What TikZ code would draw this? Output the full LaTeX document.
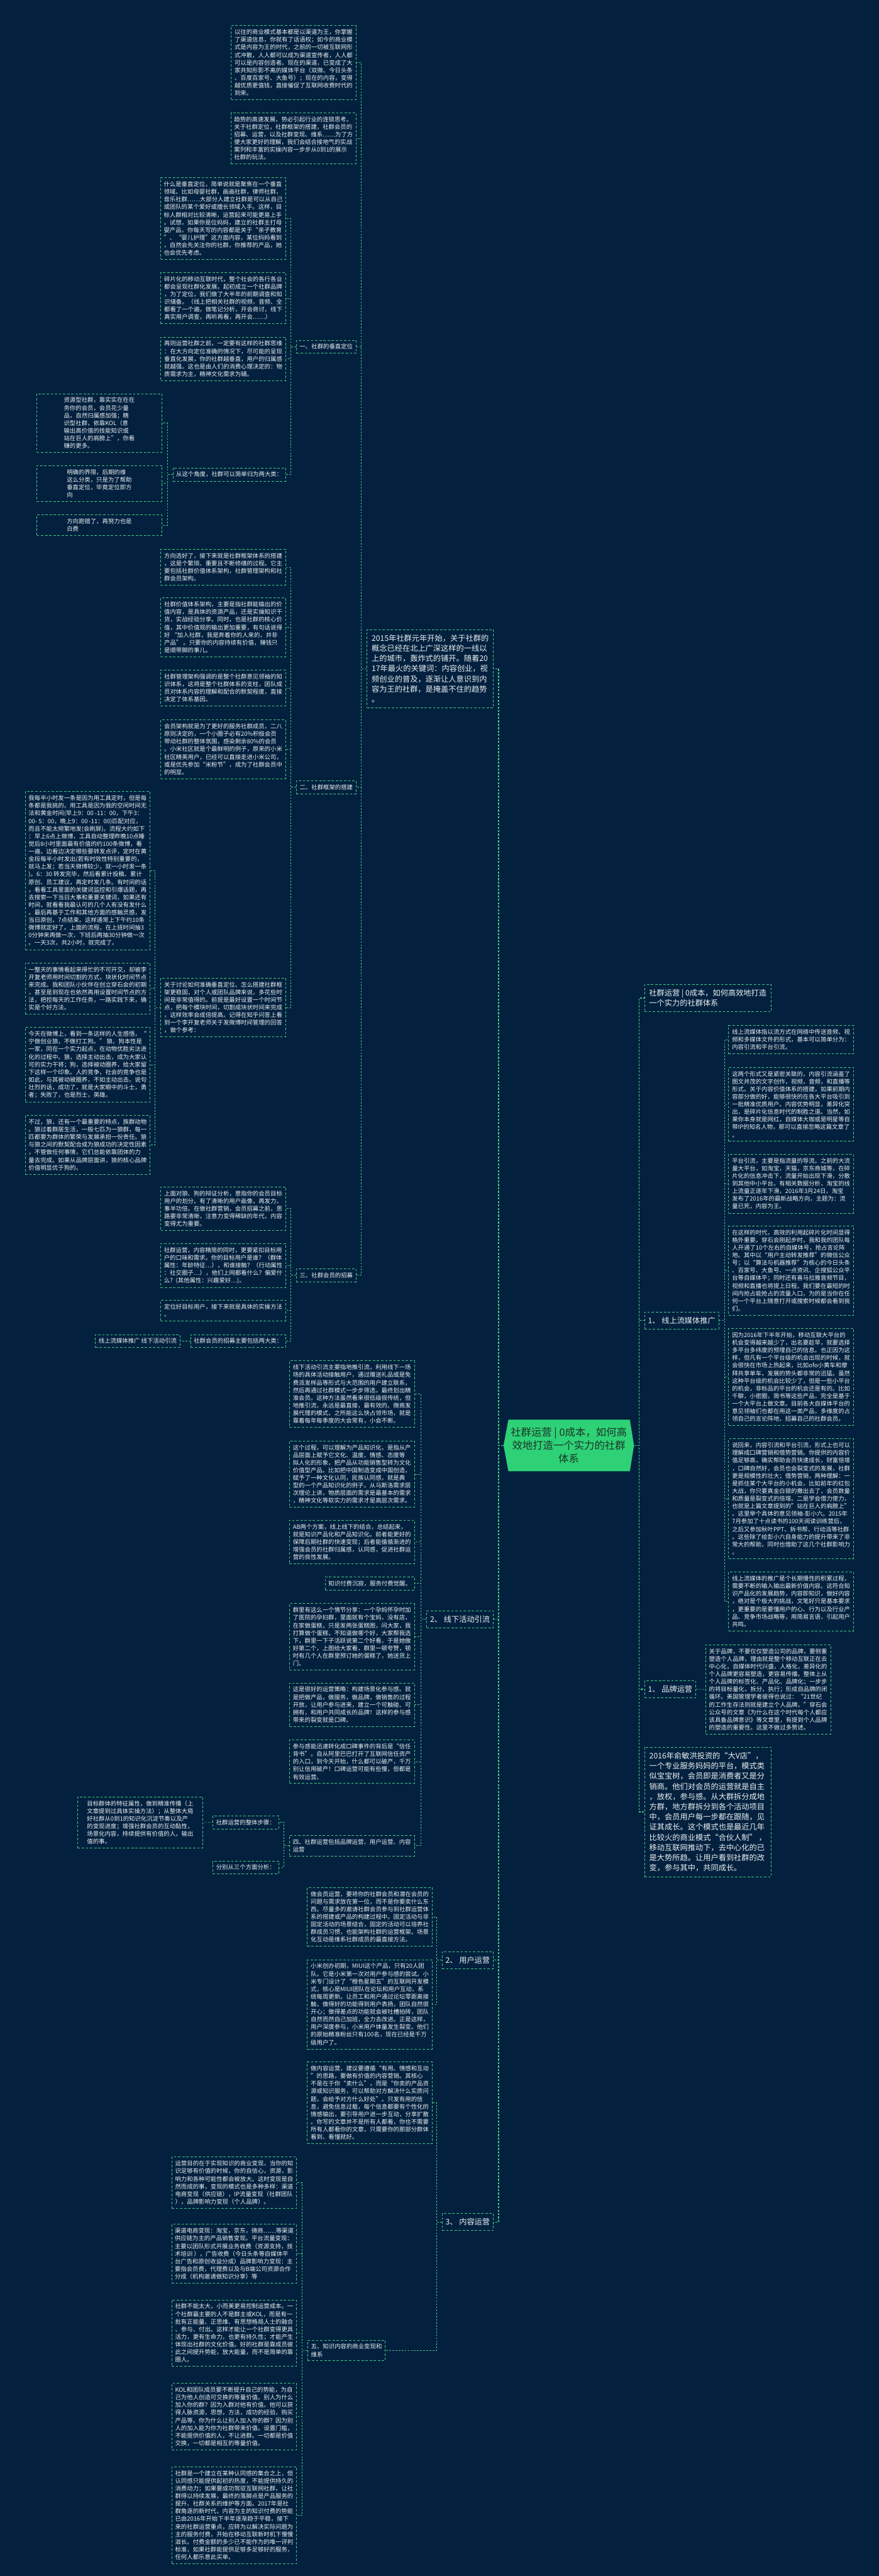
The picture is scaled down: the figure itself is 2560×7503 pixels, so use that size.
\documentclass[tikz,border=0pt]{standalone}
\usepackage{fontspec}
\newfontfamily\cjk{Noto Sans CJK SC}
\definecolor{bgc}{RGB}{3,33,63}
\definecolor{lgreen}{RGB}{72,201,125}
\definecolor{txt}{RGB}{236,240,241}
\definecolor{cgreen}{RGB}{46,209,118}
\definecolor{ctext}{RGB}{28,52,40}
\newcommand\mysmallfont{\cjk\fontsize{8.6}{11.1}\selectfont}
\newcommand\mybigfont{\cjk\fontsize{11.2}{14.85}\selectfont}
\newcommand\mycenterfont{\cjk\fontsize{15}{19}\selectfont}
\tikzset{
  bx/.style={draw=lgreen, line width=0.7pt, dash pattern=on 3.5pt off 2.5pt, align=left, font=\mysmallfont, inner xsep=4.5pt, inner ysep=5.5pt, text=txt},
  lw/.style={minimum width=182pt},
  lb/.style={bx, inner xsep=4.75pt},
  bgb/.style={bx, font=\mybigfont, inner xsep=5pt, inner ysep=7.3pt},
  ln/.style={draw=lgreen, line width=0.6pt, dash pattern=on 2.5pt off 2pt},
  mln/.style={draw=lgreen, line width=1.2pt, dash pattern=on 3pt off 2pt},
}
\begin{document}
\begin{tikzpicture}[x=0.5pt,y=-0.5pt]
\fill[bgc] (0,0) rectangle (2560,7503);
\useasboundingbox (0,0) rectangle (2560,7503);
% centre
\fill[cgreen] (1481,4135) -- (1835,4135) -- (1847,4210) -- (1835,4285) -- (1481,4285) -- (1467,4210) -- cycle;
\node[font=\mycenterfont, align=center, text=ctext, minimum width=190pt, minimum height=75pt, inner sep=0pt] (c0) at (1657,4210) {社群运营 | 0成本，如何高\\效地打造一个实力的社群\\体系};

% ---------------- left level 1
\node[bgb, anchor=north east, minimum width=184pt] (p2015) at (1438,1833) {2015年社群元年开始，关于社群的\\概念已经在北上广深这样的一线以\\上的城市，轰炸式的铺开。随着20\\17年最火的关键词：内容创业，视\\频创业的普及，逐渐让人意识到内\\容为王的社群，是掩盖不住的趋势\\。};
\node[bgb, anchor=east] (lx2) at (1438,4716) {2、 线下活动引流};
\node[bgb, anchor=east] (lu2) at (1438,5709) {2、 用户运营};
\node[bgb, anchor=east] (lc3) at (1438,6472) {3、 内容运营};

% ---------------- children of 2015 box
\node[bx, lw, anchor=north east] (a1) at (1038,74) {以往的商业模式基本都是以渠道为王，你掌握\\了渠道信息，你就有了话语权；如今的商业模\\式是内容为王的时代，之前的一切被互联网形\\式冲散，人人都可以成为渠道宣传者，人人都\\可以是内容创造者。现在的渠道，已变成了大\\家共知形影不离的媒体平台（双微、今日头条\\、百度百家号、大鱼号）；现在的内容，变得\\越优质更值钱，直接催促了互联网收费时代的\\到来。};
\node[bx, lw, anchor=north east] (a2) at (1038,328) {趋势的高速发展，势必引起行业的连锁思考。\\关于社群定位，社群框架的搭建，社群会员的\\招募、运营，以及社群变现、维系……为了方\\便大家更好的理解，我们会结合接地气的实战\\案列和丰富的实操内容一步步从0到1的展示\\社群的玩法。};
\node[lb, anchor=east] (l1) at (1038,1010) {一、社群的垂直定位};
\node[lb, anchor=east] (l2) at (1038,2293) {二、社群框架的搭建};
\node[lb, anchor=east] (l3) at (1038,3714) {三、社群会员的招募};

% ---------------- 一
\node[bx, lw, anchor=north east] (b1) at (833,517) {什么是垂直定位，简单说就是聚焦在一个垂直\\领域。比如母婴社群，画画社群，律师社群，\\音乐社群……大部分人建立社群是可以从自己\\或团队的某个爱好或擅长领域入手。这样，目\\标人群相对比较清晰，运营起来可能更易上手\\。试想，如果你是位妈妈，建立的社群主打母\\婴产品，你每天写的内容都是关于“亲子教育\\”、“婴儿护理”这方面内容，某位妈妈看到\\，自然会先关注你的社群，你推荐的产品，她\\也会优先考虑。};
\node[bx, lw, anchor=north east] (b2) at (833,793) {碎片化的移动互联时代，整个社会的各行各业\\都会呈现社群化发展。起初成立一个社群品牌\\，为了定位，我们做了大半年的前期调查和知\\识储备。（线上把相关社群的视频，音频、全\\都看了一个遍，做笔记分析，开会商讨，线下\\真实用户调查，再听再看，再开会……）};
\node[bx, lw, anchor=north east] (b3) at (833,981) {再则运营社群之前，一定要有这样的社群思维\\：在大方向定位准确的情况下，尽可能的呈现\\垂直化发展，你的社群越垂直，用户的归属感\\就越强。这也是由人们的消费心理决定的：物\\质需求为主，精神文化需求为辅。};
\node[lb, anchor=east] (lcat) at (833,1382) {从这个角度，社群可以简单归为两大类：};
\node[bx, lw, anchor=north east] (j1) at (472,1146) {资源型社群，靠实实在在在\\务你的会员，会员花少量\\品，自然归属感加强；精\\识型社群，依靠KOL（意\\输出高价值的技能知识或\\站在巨人的肩膀上”，你看\\赚的更多。};
\node[bx, lw, anchor=north east] (j2) at (472,1355) {明确的界限，后期的维\\这么分类，只是为了帮助\\垂直定位，毕竟定位即方\\向};
\node[bx, lw, anchor=north east] (j3) at (472,1499) {方向跑错了，再努力也是\\白费};

% ---------------- 二
\node[bx, lw, anchor=north east] (k1) at (833,1599) {方向选好了，接下来就是社群框架体系的搭建\\，这是个繁琐、重要且不断修缮的过程。它主\\要包括社群价值体系架构，社群管理架构和社\\群会员架构。};
\node[bx, lw, anchor=north east] (k2) at (833,1741) {社群价值体系架构，主要是指社群能输出的价\\值内容，是具体的资源产品，还是实操知识干\\货，实战经验分享。同时，也是社群的核心价\\值，其中价值观的输出更加重要，有句话说得\\好 “加入社群，我是奔着你的人来的，并非\\产品” 。只要你的内容持续有价值，赚钱只\\是顺带脚的事儿。};
\node[bx, lw, anchor=north east] (k3) at (833,1951) {社群管理架构强调的是整个社群意见领袖的知\\识体系，这将是整个社群体系的支柱，团队成\\员对体系内容的理解和配合的默契程度，直接\\决定了体系基因。};
\node[bx, lw, anchor=north east] (k4) at (833,2096) {会员架构就是为了更好的服务社群成员，二八\\原则决定的，一个小圈子必有20\%积极会员\\带动社群的整体氛围，感染剩余80\%的会员\\。小米社区就是个最鲜明的例子，原来的小米\\社区精英用户，已经可以直接走进小米公司，\\或是优先参加“米粉节”，成为了社群会员中\\的明显。};
\node[bx, lw, anchor=north east] (k5) at (833,2848) {关于讨论如何准确垂直定位、怎么搭建社群框\\架更稳固，对个人或团队品牌来说，多花些时\\间是非常值得的。前提是最好设置一个时间节\\点，把每个模块时间，切割成块状时间来完成\\，这样效率会成倍提高。记得在知乎问答上看\\到一个李开复老师关于发微博时间管理的回答\\，做个参考：};
\node[bx, lw, anchor=north east] (q1) at (438,2305) {我每半小时发一条是因为用工具定时，但是每\\条都是我挑的。用工具是因为我的空闲时间无\\法和黄金时间(早上9：00~-11：00，下午3：\\00-~5：00，晚上9：00~-11：00)匹配对应，\\而且不能太频繁地发(会刷屏)。流程大约如下\\：早上6点上微博，工具自动整理昨晚10点睡\\觉后8小时里面最有价值的约100条微博，看\\一遍，边看边决定哪些要转发点评，定时在黄\\金段每半小时发出(若有时效性特别重要的，\\就马上发；若当天微博较少，就一小时发一条\\)。6：30~转发完毕，然后看累计投稿、累计\\原创、员工建议，再定时发几条。有时间的话\\，看看工具里面的关键词监控和引爆话题，再\\去搜索一下当日大事和重要关键词，如果还有\\时间，就看看我最认可的几个人有没有发什么\\。最后再基于工作和其他方面的感触灵感，发\\当日原创，7点结束。这样通常上下午约10条\\微博就定好了。上面的流程，在上班时间抽3\\0分钟来再做一次，下班后再抽30分钟做一次\\。一天3次，共2小时，就完成了。};
\node[bx, lw, anchor=north east] (q2) at (438,2804) {一整天的事情看起来得忙的不可开交，却被李\\开复老师用时间切割的方式，块状化时间节点\\来完成。我和团队小伙伴在创立穿石会的初期\\，甚至是到现在也依然再用设置时间节点的方\\法，把控每天的工作任务，一路实践下来，确\\实是个好方法。};
\node[bx, lw, anchor=north east] (q3) at (438,2992) {今天在微博上，看到一条这样的人生感悟，“\\宁做创业狼，不做打工狗。” 狼、狗本性是\\一家，同在一个实力起点，在动物优胜劣汰进\\化的过程中。狼，选择主动出击，成为大家认\\可的实力干将；狗，选择被动圈养，给大家留\\下这样一个印象。人的竞争，社会的竞争也是\\如此，与其被动被圈养，不如主动出击。说句\\壮烈的话，成功了，就是大家眼中的斗士，勇\\者；失败了，也是烈士，英雄。};
\node[bx, lw, anchor=north east] (q4) at (438,3248) {不过，狼，还有一个最重要的特点，族群动物\\。狼过着群居生活，一般七匹为一狼群，每一\\匹都要为群体的繁荣与发展承担一份责任。狼\\与狼之间的默契配合成为狼成功的决定性因素\\，不管做任何事情，它们总能依靠团体的力\\量去完成。如果从品牌层面讲，狼的核心品牌\\价值明显优于狗的。};

% ---------------- 三
\node[bx, lw, anchor=north east] (m1) at (833,3456) {上面对狼、狗的辩证分析，意指你的会员目标\\用户的划分。有了清晰的用户画像，再发力，\\事半功倍。在做社群营销，会员招募之前，思\\路要非常清晰，注意力变得稀缺的年代，内容\\变得尤为重要。};
\node[bx, lw, anchor=north east] (m2) at (833,3621) {社群运营，内容精简的同时，更要紧扣目标用\\户的口味和需求。你的目标用户是谁？（群体\\属性：年龄特征…），和谁接触？（行动属性\\：社交圈子…），他们上网都看什么？偏爱什\\么？(其他属性：兴趣爱好…)。};
\node[bx, lw, anchor=north east] (m3) at (833,3786) {定位好目标用户，接下来就是具体的实操方法\\。};
\node[lb, anchor=east] (m4) at (833,3906) {社群会员的招募主要包括两大类：};
\node[lb, anchor=east] (m4c) at (525,3906) {线上流媒体推广 线下活动引流};

% ---------------- 2、线下活动引流
\node[bx, lw, anchor=north east] (f1) at (1208,3963) {线下活动引流主要指地推引流，利用线下一场\\场的具体活动接触用户，通过赠送礼品或是免\\费派发样品等形式与大范围的用户建立联系，\\然后再通过社群模式一步步筛选，最终划出精\\准会员。这种方法虽然看来很低级很传统，但\\地推引流，永远是最直接，最有效的。微商发\\展代理的模式，之所能这么快占领市场，就是\\靠着每年每季度的大会常有，小会不断。};
\node[bx, lw, anchor=north east] (f2) at (1208,4196) {这个过程，可以理解为产品知识化，是指从产\\品层面上赋予它文化、温度、情感、态度等\\拟人化的形象，把产品从功能销售型转为文化\\价值型产品。比如把中国制造变成中国创造，\\赋予了一种文化认同，民族认同感，就是典\\型的一个产品知识化的例子。从马斯洛需求层\\次理论上讲，物质层面的需求是最基本的需求\\，精神文化等软实力的需求才是高层次需求。};
\node[bx, lw, anchor=north east] (f3) at (1208,4427) {AB两个方案，线上线下的结合，总结起来，\\就是知识产品化和产品知识化。前者能更好的\\保障后期社群的快速变现；后者能循循渐进的\\增强会员的社群归属感，认同感，促进社群运\\营的良性发展。};
\node[lb, anchor=east] (f4) at (1208,4612) {知识付费沉寂，服务付费觉醒。};
\node[bx, lw, anchor=north east] (f5) at (1208,4670) {群里有这么一个情节分享：一个孕妈怀孕时加\\了医院的孕妇群，里面就有个宝妈，没有店，\\在家做蛋糕，只是发两张蛋糕图，问大家，我\\打算做个蛋糕，不知道做哪个好，大家帮我选\\下，群里一下子活跃说第二个好看，于是她做\\好第二个，上图给大家看，群里一顿夸赞，顿\\时有几个人在群里预订她的蛋糕了，她送货上\\门。};
\node[bx, lw, anchor=north east] (f6) at (1208,4901) {这是很好的运营策略：构建场景化参与感。就\\是把做产品，做服务，做品牌，做销售的过程\\开放，让用户参与进来，建立一个可触碰、可\\拥有，和用户共同成长的品牌！这样的参与感\\带来的裂变就是口碑。};
\node[bx, lw, anchor=north east] (f7) at (1208,5067) {参与感能迅速转化成口碑事件的背后是“信任\\背书”。自从阿里巴巴打开了互联网信任资产\\的入口，到今天开始，什么都可以破产，千万\\别让信用破产！口碑运营可能有些慢，但都是\\有效运营。};
\node[bx, lw, anchor=north east] (f8) at (1208,5345) {四、社群运营包括品牌运营、用户运营、内容\\运营};
\node[lb, anchor=east] (s1) at (812,5308) {社群运营的整体步骤：};
\node[lb, anchor=east] (s2) at (812,5439) {分别从三个方面分析：};
\node[bx, lw, anchor=north east] (s1c) at (591,5233) {目标群体的特征属性，做到精准传播（上\\文章提到过具体实操方法）；从整体大局\\好社群从0到1的知识化沉淀节奏以及产\\的变现进度；增强社群会员的互动黏性，\\场景化内容，持续提供有价值的人，输出\\值的事。};

% ---------------- 2、用户运营
\node[bx, lw, anchor=north east] (g1) at (1260,5497) {做会员运营，要将你的社群会员和潜在会员的\\问题与需求放在第一位，而不是你要卖什么东\\西。尽量多的邀请社群会员参与到社群运营体\\系的搭建或产品的构建过程中。固定活动与非\\固定活动的场景结合，固定的活动可以培养社\\群成员习惯，也能架构社群的运营框架。场景\\化互动是维系社群成员的最直接方法。};
\node[bx, lw, anchor=north east] (g2) at (1260,5707) {小米创办初期，MIUI这个产品，只有20人团\\队。它是小米第一次对用户参与感的尝试。小\\米专门设计了“橙色星期五”的互联网开发模\\式，核心是MIUI团队在论坛和用户互动，系\\统每周更新。让员工和用户通过论坛零距离接\\触，做得好的功能得到用户表扬，团队自然很\\开心；做得差点的功能就会被吐槽拍砖，团队\\自然而然自己加班，全力去改进。正是这样，\\用户深度参与，小米用户体量发生裂变。他们\\的原始精准粉丝只有100名，现在已经是千万\\级用户了。};

% ---------------- 3、内容运营
\node[bx, lw, anchor=north east] (h1) at (1260,6005) {做内容运营，建议要遵循“有用、情感和互动\\”的思路，要做有价值的内容营销。其核心\\不是在于你“卖什么”，而是“你卖的产品资\\源或知识服务，可以帮助对方解决什么实质问\\题，会给予对方什么好处”。只发有用的信\\息，避免信息过载，每个信息都要有个性化的\\情感输出，要引导用户进一步互动，分享扩散\\。你写的文章并不是所有人都看，你也不需要\\所有人都看你的文章，只需要你的那部分群体\\看到、看懂就好。};
\node[lb, anchor=west] (l5) at (896,6846) {五、知识内容的商业变现和\\维系};
\node[bx, lw, anchor=north east] (i1) at (865,6282) {运营目的在于实现知识的商业变现，当你的知\\识足够有价值的时候，你的自信心，资源，影\\响力和各种可能性都会被放大。这时变现是自\\然而成的事，变现的模式也是多种多样：渠道\\电商变现（供应链），IP流量变现（社群团队\\），品牌影响力变现（个人品牌）。};
\node[bx, lw, anchor=north east] (i2) at (865,6478) {渠道电商变现：淘宝，京东，微商……等渠道\\供应链为主的产品销售变现。平台流量变现：\\主要以团队形式开展业务收费（资源支持，技\\术培训 ），广告收费（今日头条等自媒体平\\台广告和原创收益分成）品牌影响力变现：主\\要指会员费，代理费以及与B端公司资源合作\\分成（机构邀请做知识分享）等};
\node[bx, lw, anchor=north east] (i3) at (865,6698) {社群不能太大，小而美更易控制运营成本。一\\个社群最主要的人不是群主或KOL，而是有一\\批有正能量、正思维、有思想格局人士的融合\\、参与、付出。这样才能让一个社群变得更具\\活力，更有生命力，也更有持久性；才能产生\\体现出社群的文化价值。好的社群是靠成员彼\\此之间提升势能，放大能量，而不是简单的靠\\圈人。};
\node[bx, lw, anchor=north east] (i4) at (865,6941) {KOL和团队成员要不断提升自己的势能，为自\\己为他人创造可交换的等量价值。别人为什么\\加入你的群？因为入群对他有价值。他可以获\\得人脉资源，思想，方法，成功的经验，购买\\产品等。你为什么让别人加入你的群？因为别\\人的加入能为你为社群带来价值。设置门槛，\\不能提供价值的人，不让进群。一切都是价值\\交换，一切都是相互的等量价值。};
\node[bx, lw, anchor=north east] (i5) at (865,7184) {社群是一个建立在某种认同感的集合之上，但\\认同感只能提供起初的热度，不能提供持久的\\消费动力；如果要成功驾驭互联网社群，让社\\群得以持续发展，最终的落脚点是产品服务的\\提升、社群关系的维护等方面。2017年是社\\群角逐的新时代，内容为主的知识付费的势能\\已由2016年开始下半年逐渐趋于平稳，接下\\来的社群运营重点，应转为以解决实际问题为\\主的服务付费，开始在移动互联新时机下慢慢\\滋长。付费金额的多少已不能作为的唯一评判\\标准，如果社群能提供足够多足够好的服务，\\任何人都乐意此买单。};

% ---------------- right side
\node[bgb, anchor=west, minimum width=184.5pt] (r1) at (1877,2907) {社群运营 | 0成本，如何高效地打造\\一个实力的社群体系};
\node[bgb, anchor=west] (r2) at (1877,3846) {1、 线上流媒体推广};
\node[bgb, anchor=west] (r3) at (1877,4920) {1、 品牌运营};
\node[bgb, anchor=north west, minimum width=184.5pt] (r4) at (1877,5088) {2016年俞敏洪投资的“大V店”，\\一个专业服务妈妈的平台，模式类\\似宝宝树，会员即是消费者又是分\\销商。他们对会员的运营就是自主\\，放权，参与感。从大群拆分成地\\方群，地方群拆分到各个活动项目\\中，会员用户每一步都在跟随，见\\证其成长。这个模式也是最近几年\\比较火的商业模式“合伙人制” ，\\移动互联网推动下，去中心化的已\\是大势所趋。让用户看到社群的改\\变，参与其中，共同成长。};

\node[bx, lw, anchor=north west] (c1) at (2122,2986) {线上流媒体指以流方式在网络中传送音频、视\\频和多媒体文件的形式，基本可以简单分为：\\内容引流和平台引流。};
\node[bx, lw, anchor=north west] (c2) at (2122,3108) {这两个形式又是紧密关联的，内容引流涵盖了\\图文并茂的文字创作，视频，音频，和直播等\\形式。关于内容价值体系的搭建，如果前期内\\容部分做的好，能够很快的在各大平台吸引到\\一批精准优质用户。内容优势明显，差异化突\\出，是碎片化信息时代的制胜之道。当然，如\\果你本身就是网红，自媒体大咖或是明星等自\\带IP的知名人物，那可以直接忽略这篇文章了\\。};
\node[bx, lw, anchor=north west] (c3) at (2122,3361) {平台引流，主要是指流量的导流。之前的大流\\量大平台，如淘宝，天猫，京东商城等，在碎\\片化的信息冲击下，流量开始出现下滑，分散\\到其他中小平台。有相关数据分析，淘宝的线\\上流量正逐年下滑，2016年3月24日，淘宝\\发布了2016年的最新战略方向，主题为：流\\量已死，内容为王。};
\node[bx, lw, anchor=north west] (c4) at (2122,3570) {在这样的时代，高效的利用起碎片化时间显得\\格外重要。穿石会刚起步时，我和我的团队每\\人开通了10个左右的自媒体号，抢占言论阵\\地。其中以“用户主动转发推荐”的微信公众\\号；以“算法与机器推荐”为核心的今日头条\\、百家号、大鱼号、一点资讯、企搜狐公众平\\台等自媒体平；同时还有喜马拉雅音频节目，\\视频和直播也将提上日程。我们要在最短的时\\间内抢占能抢占的流量入口，为的是当你在任\\何一个平台上随意打开或搜索时候都会看到我\\们。};
\node[bx, lw, anchor=north west] (c5) at (2122,3869) {因为2016年下半年开始，移动互联大平台的\\机会变得越来越少了，出名要趁早，就要选择\\多平台多纬度的预埋自己的信息。也正因为这\\样，但凡有一个平台级的机会出现的时候，就\\会很快在市场上热起来，比如ofo小黄车和摩\\拜共享单车，发展的势头都非常的迅猛。虽然\\这种平台级的机会比较少了，但是一些小平台\\的机会，非标品的平台的机会还是有的。比如\\千聊，小密圈，简书等这些产品，完全是基于\\一个大平台上做文章。目前各大自媒体平台的\\意见领袖们也都在用这一类产品，多维度的占\\领自己的言论阵地，招募自己的社群会员。};
\node[bx, lw, anchor=north west] (c6) at (2122,4190) {说回来，内容引流和平台引流，形式上也可以\\理解成口碑营销和借势营销。你提供的内容价\\值足够高，确实帮助会员快速成长，财富倍增\\，口碑自然好，会员也会裂变式的发展，社群\\更是规模性的壮大；借势营销，两种理解：一\\是抓住某个大平台的小机会，比如前年的红包\\大战，你只要真金白银的撒出去了，会员数量\\和质量是裂变式的倍增。二是学会借力使力，\\也就是上篇文章提到的”站在巨人的肩膀上”\\。这里举个具体的意见领袖-彭小六。2015年\\7月参加了十点读书的100天阅读训练营后，\\之后又参加秋叶PPT、拆书帮、行动派等社群\\。这些除了给彭小六自身能力的提升带来了非\\常大的帮助，同时也借助了这几个社群影响力\\。};
\node[bx, lw, anchor=north west] (c7) at (2122,4578) {线上流媒体的推广是个长期慢性的积累过程，\\需要不断的输入输出最新价值内容。这符合知\\识产品化的发展趋势，内容即知识，做好内容\\，绝对是个极大的挑战，文笔好只是基本要求\\，更重要的是要懂用户的心、行为以及行业产\\品、竞争市场战略等，用简易言语，引起用户\\共鸣。};
\node[bx, lw, anchor=north west] (d1) at (2055,4790) {关于品牌，不要仅仅塑造公司的品牌，要侧重\\塑造个人品牌，理由就是整个移动互联正在去\\中心化，自媒体时代兴盛，人格化，差异化的\\个人品牌更容易塑造，更容易传播。整体上从\\个人品牌的标签化、产品化、品牌化；一步步\\的将目标量化，拆分，执行；形成自品牌的闭\\循环。美国管理学者彼得也说过：“21世纪\\的工作生存法则就是建立个人品牌。”穿石会\\公众号的文章《为什么在这个时代每个人都应\\该具备品牌意识》等文章里，有提到个人品牌\\的塑造的重要性。这里不做过多赘述。};

% ---------------- connectors
\foreach \c in {p2015,lx2,lu2,lc3} \draw[mln] (c0.west) -- ++(-14,0) |- (\c.east);
\foreach \c in {r1,r2,r3,r4} \draw[mln] (c0.east) -- ++(14,0) |- (\c.west);
\foreach \c in {a1,a2,l1,l2,l3} \draw[ln] (p2015.west) -- ++(-16,0) |- (\c.east);
\foreach \c in {b1,b2,b3,lcat} \draw[ln] (l1.west) -- ++(-16,0) |- (\c.east);
\foreach \c in {j1,j2,j3} \draw[ln] (lcat.west) -- ++(-16,0) |- (\c.east);
\foreach \c in {k1,k2,k3,k4,k5} \draw[ln] (l2.west) -- ++(-16,0) |- (\c.east);
\foreach \c in {q1,q2,q3,q4} \draw[ln] (k5.west) -- ++(-16,0) |- (\c.east);
\foreach \c in {m1,m2,m3,m4} \draw[ln] (l3.west) -- ++(-16,0) |- (\c.east);
\draw[ln] (m4.west) -- (m4c.east);
\foreach \c in {f1,f2,f3,f4,f5,f6,f7,f8} \draw[ln] (lx2.west) -- ++(-16,0) |- (\c.east);
\foreach \c in {s1,s2} \draw[ln] (f8.west) -- ++(-16,0) |- (\c.east);
\draw[ln] (s1.west) -- (s1c.east);
\foreach \c in {g1,g2} \draw[ln] (lu2.west) -- ++(-15,0) |- (\c.east);
\foreach \c in {h1,l5} \draw[ln] (lc3.west) -- ++(-15,0) |- (\c.east);
\foreach \c in {i1,i2,i3,i4,i5} \draw[ln] (l5.west) -- ++(-16,0) |- (\c.east);
\foreach \c in {c1,c2,c3,c4,c5,c6,c7} \draw[ln] (r2.east) -- ++(16,0) |- (\c.west);
\draw[ln] (r3.east) -- (d1.west);
\end{tikzpicture}
\end{document}
